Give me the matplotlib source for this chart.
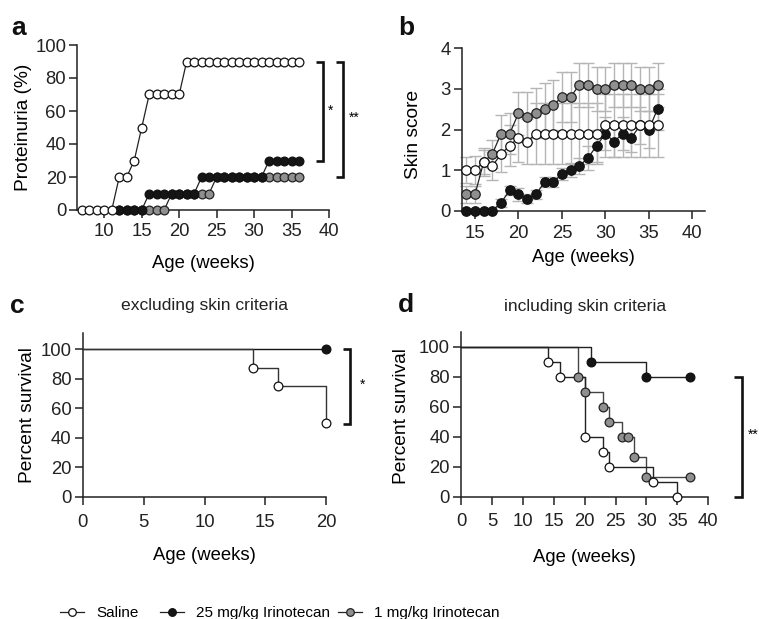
import matplotlib
matplotlib.use("Agg")
import matplotlib.pyplot as plt
from matplotlib.lines import Line2D
import numpy as np

plt.rcParams['font.family'] = ['Liberation Sans', 'DejaVu Sans']

# ---------------- data ----------------
# Panel a: proteinuria (%)
prot_weeks_saline = list(range(7, 37))
prot_saline = [0, 0, 0, 0, 0, 20, 20, 30, 50, 70, 70, 70, 70, 70,
               90, 90, 90, 90, 90, 90, 90, 90, 90, 90, 90, 90, 90, 90, 90, 90]
prot_weeks_drug = list(range(12, 37))
prot_iri25 = [0, 0, 0, 0, 10, 10, 10, 10, 10, 10, 10, 20, 20, 20, 20, 20,
              20, 20, 20, 20, 30, 30, 30, 30, 30]
prot_iri1 = [0, 0, 0, 0, 0, 0, 0, 10, 10, 10, 10, 10, 10, 20, 20, 20, 20,
             20, 20, 20, 20, 20, 20, 20, 20]

# Panel b: skin score (mean +/- error)
skin_weeks = list(range(14, 37))
skin_saline = [1.0, 1.0, 1.2, 1.1, 1.4, 1.6, 1.8, 1.7, 1.9, 1.9, 1.9, 1.9,
               1.9, 1.9, 1.9, 1.9, 2.1, 2.1, 2.1, 2.1, 2.1, 2.1, 2.1]
skin_saline_err = [0.33, 0.35, 0.35, 0.35, 0.45, 0.5, 0.6, 0.55, 0.75, 0.75,
                   0.75, 0.75, 0.75, 0.75, 0.75, 0.75, 0.77, 0.77, 0.77, 0.77,
                   0.77, 0.77, 0.77]
skin_iri25 = [0, 0, 0, 0, 0.2, 0.5, 0.4, 0.3, 0.4, 0.7, 0.7, 0.9, 1.0, 1.1,
              1.3, 1.6, 1.9, 1.7, 1.9, 1.8, 2.1, 2.0, 2.5]
skin_iri25_err = [0, 0, 0, 0, 0.1, 0.12, 0.15, 0.12, 0.12, 0.12, 0.12, 0.15,
                  0.18, 0.2, 0.3, 0.4, 0.4, 0.38, 0.4, 0.35, 0.45, 0.46, 0.5]
skin_iri1 = [0.4, 0.4, 1.2, 1.4, 1.9, 1.9, 2.4, 2.3, 2.4, 2.5, 2.6, 2.8, 2.8,
             3.1, 3.1, 3.0, 3.0, 3.1, 3.1, 3.1, 3.0, 3.0, 3.1]
skin_iri1_err = [0.2, 0.2, 0.3, 0.35, 0.45, 0.5, 0.53, 0.62, 0.62, 0.64, 0.62,
                 0.62, 0.62, 0.55, 0.55, 0.55, 0.55, 0.55, 0.55, 0.55, 0.55,
                 0.55, 0.55]

# Panel c: survival excluding skin criteria
c_saline_t = [0, 14, 16, 20]
c_saline_s = [100, 87.5, 75, 50]
c_iri25_t = [0, 20]
c_iri25_s = [100, 100]

# Panel d: survival including skin criteria
d_saline_t = [0, 14, 16, 20, 23, 24, 31, 35]
d_saline_s = [100, 90, 80, 40, 30, 20, 10, 0]
d_iri25_t = [0, 21, 30, 37]
d_iri25_s = [100, 90, 80, 80]
d_iri1_t = [0, 19, 20, 23, 24, 26, 27, 28, 30, 37]
d_iri1_s = [100, 80, 70, 60, 50, 40, 40, 26.7, 13.3, 13.3]

labels = ["Saline", "25 mg/kg Irinotecan", "1 mg/kg Irinotecan"]

# ---------------- style ----------------
W, H = 759, 619
fig = plt.figure(figsize=(W / 100, H / 100), dpi=100)

C_WHITE = "white"
C_BLACK = "#151515"
C_GRAY = "#8f8f8f"
MS = 6.3
MEW = 0.9
TICKFS = 13.3
LABFS = 13.3
YLABFS = 13.8


def ax_rect(left, top, right, bottom):
    return [left / W, 1 - bottom / H, (right - left) / W, (bottom - top) / H]


def style(ax, xpad):
    for s in ("top", "right"):
        ax.spines[s].set_visible(False)
    for s in ("left", "bottom"):
        ax.spines[s].set_linewidth(1.1)
        ax.spines[s].set_color("#222222")
    ax.tick_params(axis="both", length=6, width=1.1, colors="#222222",
                   labelsize=TICKFS, pad=2.0, labelcolor="#222222")
    ax.tick_params(axis="x", pad=xpad)


def bracket(ax, xh, xv, y1, y2):
    ax.plot([xh, xv, xv, xh], [y1, y1, y2, y2], color="#111111", lw=1.9,
            clip_on=False, solid_joinstyle="miter", solid_capstyle="butt")


# ---------------- panel a ----------------
axa = fig.add_axes(ax_rect(77.3, 45, 329, 210))
style(axa, 3.5)
axa.plot(prot_weeks_drug, prot_iri1, "-o", color="#222222", lw=0.9, ms=MS,
         mfc=C_GRAY, mec="#222222", mew=MEW, clip_on=False, zorder=3)
axa.plot(prot_weeks_drug, prot_iri25, "-o", color="#222222", lw=0.9, ms=MS,
         mfc=C_BLACK, mec="#111111", mew=MEW, clip_on=False, zorder=4)
axa.plot(prot_weeks_saline, prot_saline, "-o", color="#222222", lw=0.9, ms=MS,
         mfc=C_WHITE, mec="#111111", mew=MEW, clip_on=False, zorder=5)
axa.set_xlim(6.4, 40)
axa.set_ylim(0, 100)
axa.set_xticks([10, 15, 20, 25, 30, 35, 40])
axa.set_yticks([0, 20, 40, 60, 80, 100])
axa.set_xlabel("Age (weeks)", fontsize=LABFS)
axa.set_ylabel("Proteinuria (%)", fontsize=YLABFS)
axa.xaxis.set_label_coords(0.5, -0.27)
axa.yaxis.set_label_coords(-0.18, 0.5)
bracket(axa, 38.3, 39.25, 90, 30)
bracket(axa, 40.9, 41.9, 90, 20)
axa.text(40.2, 60, "*", fontsize=10, ha="center", va="center")
axa.text(43.4, 56, "**", fontsize=10, ha="center", va="center")

# ---------------- panel b ----------------
axb = fig.add_axes(ax_rect(461.7, 48.3, 705.3, 210.7))
style(axb, 4.2)
ekw = dict(ecolor="#b5b5b5", elinewidth=1.0, capsize=4, capthick=1.0,
           fmt="none", zorder=1, clip_on=False)
axb.errorbar(skin_weeks, skin_iri1, yerr=skin_iri1_err, **ekw)
axb.errorbar(skin_weeks, skin_saline, yerr=skin_saline_err, **ekw)
axb.errorbar(skin_weeks, skin_iri25, yerr=skin_iri25_err, **ekw)
axb.plot(skin_weeks, skin_iri25, "-o", color="#222222", lw=0.9, ms=MS + 0.5,
         mfc=C_BLACK, mec="#111111", mew=MEW, clip_on=False, zorder=3)
axb.plot(skin_weeks, skin_iri1, "-o", color="#222222", lw=0.9, ms=MS + 0.5,
         mfc=C_GRAY, mec="#222222", mew=MEW, clip_on=False, zorder=4)
axb.plot(skin_weeks, skin_saline, "-o", color="#222222", lw=0.9, ms=MS + 0.5,
         mfc=C_WHITE, mec="#111111", mew=MEW, clip_on=False, zorder=5)
axb.set_xlim(13.47, 41.5)
axb.set_ylim(0, 4)
axb.set_xticks([15, 20, 25, 30, 35, 40])
axb.set_yticks([0, 1, 2, 3, 4])
axb.set_xlabel("Age (weeks)", fontsize=LABFS)
axb.set_ylabel("Skin score", fontsize=YLABFS)
axb.xaxis.set_label_coords(0.5, -0.235)
axb.yaxis.set_label_coords(-0.165, 0.47)

# ---------------- panel c ----------------
axc = fig.add_axes(ax_rect(82.7, 333, 326.3, 496.7))
style(axc, 6.5)
axc.step(c_iri25_t, c_iri25_s, where="post", color="#111111", lw=1.0,
         clip_on=False, zorder=3)
axc.plot(c_iri25_t[1:], c_iri25_s[1:], "o", ms=MS, mfc=C_BLACK, mec="#111111",
         mew=MEW, clip_on=False, zorder=4)
axc.step(c_saline_t, c_saline_s, where="post", color="#333333", lw=1.0,
         clip_on=False, zorder=3)
axc.plot(c_saline_t[1:], c_saline_s[1:], "o", ms=MS, mfc=C_WHITE,
         mec="#111111", mew=MEW, clip_on=False, zorder=5)
axc.set_xlim(0, 20)
axc.set_ylim(0, 111)
axc.set_xticks([0, 5, 10, 15, 20])
axc.set_yticks([0, 20, 40, 60, 80, 100])
axc.set_xlabel("Age (weeks)", fontsize=LABFS)
axc.set_ylabel("Percent survival", fontsize=YLABFS)
axc.xaxis.set_label_coords(0.5, -0.31)
axc.yaxis.set_label_coords(-0.19, 0.5)
axc.set_title("excluding skin criteria", fontsize=12.6, y=1.12,
              va="center", color="#222222")
bracket(axc, 21.35, 21.95, 100, 49)
axc.text(23.0, 76, "*", fontsize=10, ha="center", va="center")

# ---------------- panel d ----------------
axd = fig.add_axes(ax_rect(461, 331.7, 708.3, 496.7))
style(axd, 6.0)
axd.step(d_iri1_t, d_iri1_s, where="post", color="#444444", lw=1.0,
         clip_on=False, zorder=2)
axd.plot(d_iri1_t[1:], d_iri1_s[1:], "o", ms=MS, mfc=C_GRAY, mec="#222222",
         mew=MEW, clip_on=False, zorder=4)
axd.step(d_iri25_t, d_iri25_s, where="post", color="#222222", lw=1.0,
         clip_on=False, zorder=2)
axd.plot(d_iri25_t[1:], d_iri25_s[1:], "o", ms=MS, mfc=C_BLACK,
         mec="#111111", mew=MEW, clip_on=False, zorder=4)
axd.step(d_saline_t, d_saline_s, where="post", color="#222222", lw=1.0,
         clip_on=False, zorder=3)
axd.plot(d_saline_t[1:], d_saline_s[1:], "o", ms=MS, mfc=C_WHITE,
         mec="#111111", mew=MEW, clip_on=False, zorder=5)
axd.set_xlim(0, 40)
axd.set_ylim(0, 110)
axd.set_xticks([0, 5, 10, 15, 20, 25, 30, 35, 40])
axd.set_yticks([0, 20, 40, 60, 80, 100])
axd.set_xlabel("Age (weeks)", fontsize=LABFS)
axd.set_ylabel("Percent survival", fontsize=YLABFS)
axd.xaxis.set_label_coords(0.5, -0.32)
axd.yaxis.set_label_coords(-0.205, 0.49)
axd.set_title("including skin criteria", fontsize=12.6, y=1.10,
              va="center", color="#222222")
bracket(axd, 44.2, 45.4, 80, 0)
axd.text(47.3, 41, "**", fontsize=10, ha="center", va="center")

# ---------------- panel letters ----------------
for letter, x, y in (("a", 11, 35), ("b", 398, 35), ("c", 10, 313), ("d", 398, 312)):
    fig.text(x / W, 1 - y / H, letter, fontsize=19, fontweight="bold",
             ha="left", va="baseline", color="#111111")

# ---------------- legend (one entry per group, placed along the bottom) ----------------
handles = [
    Line2D([], [], color="#222222", lw=0.9, marker="o", ms=5.5, mfc=C_WHITE,
           mec="#111111", mew=0.9),
    Line2D([], [], color="#222222", lw=0.9, marker="o", ms=5.5, mfc=C_BLACK,
           mec="#111111", mew=0.9),
    Line2D([], [], color="#222222", lw=0.9, marker="o", ms=5.5, mfc=C_GRAY,
           mec="#222222", mew=0.9),
]
legend_x = [60, 160, 338]
for h, lab, lx in zip(handles, labels, legend_x):
    fig.legend([h], [lab], loc="center left",
               bbox_to_anchor=(lx / W, 1 - 613 / H),
               frameon=False, handlelength=1.6, handletextpad=0.75,
               borderpad=0, borderaxespad=0, fontsize=11)

fig.savefig("out.png", dpi=100)
